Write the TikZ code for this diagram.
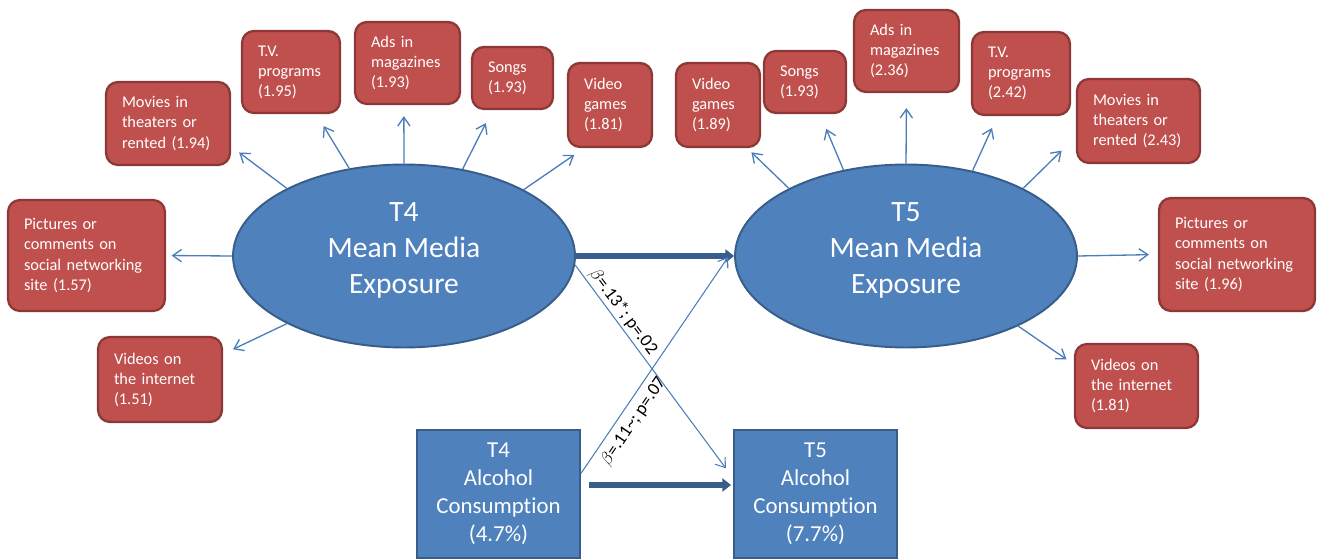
\documentclass[tikz,border=0pt]{standalone}
\usepackage{fontspec}
\setmainfont{Carlito}[Ligatures=NoCommon]
\usetikzlibrary{shapes.geometric,arrows.meta}

\definecolor{redfill}{HTML}{C0504D}
\definecolor{redline}{HTML}{8C3836}
\definecolor{bluefill}{HTML}{4F81BD}
\definecolor{blueline}{HTML}{385D8A}
\definecolor{arrowblue}{HTML}{4A7EBB}

\tikzset{
  media/.style={rectangle, rounded corners=0.24cm, draw=redline, line width=1.3pt,
    fill=redfill, text=white, align=left, inner xsep=0.32cm, inner ysep=0pt,
    font=\fontsize{9.3}{11.4}\selectfont},
  latent/.style={ellipse, draw=blueline, line width=1.1pt, fill=bluefill,
    text=white, minimum width=6.84cm, minimum height=3.66cm,
    inner sep=0pt, font=\fontsize{16.8}{20.5}\selectfont},
  observed/.style={rectangle, draw=blueline, line width=1.1pt, fill=bluefill,
    text=white, align=center, minimum width=3.26cm, minimum height=2.56cm,
    font=\fontsize{13}{15.9}\selectfont},
  load/.style={draw=arrowblue, line width=0.75pt,
    -{Straight Barb[length=5pt,width=7pt]}},
  lagged/.style={draw=arrowblue, line width=0.6pt,
    -{Straight Barb[length=5pt,width=7pt]}},
  stable/.style={draw=blueline, line width=3.4pt,
    -{Triangle[length=5pt,width=7.5pt]}},
  coef/.style={text=black, font=\fontsize{10.3}{12}\selectfont}
}

% three centred lines, lifted a little as in the ellipses
\newcommand\latentlabel[1]{\raisebox{3.4pt}[\height][\depth]{\begin{tabular}{@{}c@{}}#1\end{tabular}}}

\begin{document}
\begin{tikzpicture}[x=0.02cm,y=-0.02cm]

\useasboundingbox (0,0) rectangle (1317,560);

%====================================================
% T4 : mean media exposure
%====================================================
\node[latent] (e4) at (404,256) {\latentlabel{T4\\Mean Media\\Exposure}};

\node[media, text width=1.84cm, minimum height=1.66cm] (movL) at (168,123.5)
  {Movies in\\theaters or\\rented (1.94)};
\node[media, text width=1.32cm, minimum height=1.64cm] (tvL) at (291,72)
  {T.V.\\programs\\(1.95)};
\node[media, text width=1.46cm, minimum height=1.64cm] (adsL) at (407.5,63)
  {Ads in\\magazines\\(1.93)};
\node[media, text width=0.98cm, minimum height=1.24cm] (songL) at (512.5,78)
  {Songs\\(1.93)};
\node[media, text width=1.04cm, minimum height=1.68cm] (gameL) at (610,105)
  {Video\\games\\(1.81)};
\node[media, text width=2.5cm, minimum height=2.22cm] (picL) at (86.5,255.5)
  {Pictures or\\comments on\\social networking\\site (1.57)};
\node[media, text width=1.84cm, minimum height=1.7cm] (vidL) at (160,379.5)
  {Videos on\\the internet\\(1.51)};

% Loadings
\draw[load, shorten >=0.2cm]  (e4.150) -- (movL.-20);
\draw[load, shorten >=0.28cm] (e4.122) -- (tvL.-59);
\draw[load, shorten >=0.22cm] (e4.90)  -- (adsL.-95);
\draw[load, shorten >=0.29cm] (e4.56)  -- (songL.-122);
\draw[load, shorten >=0.24cm] (e4.29)  -- (gameL.-121);
\draw[load, shorten >=0.11cm] (e4.180) -- (picL.east);
\draw[load, shorten >=0.22cm] (e4.210) -- (vidL.22);

%====================================================
% T5 : mean media exposure
%====================================================
\node[latent] (e5) at (906,256) {\latentlabel{T5\\Mean Media\\Exposure}};

\node[media, text width=1.04cm, minimum height=1.68cm] (gameR) at (718,105)
  {Video\\games\\(1.89)};
\node[media, text width=1.0cm, minimum height=1.24cm] (songR) at (805,82)
  {Songs\\(1.93)};
\node[media, text width=1.46cm, minimum height=1.64cm] (adsR) at (906.5,51)
  {Ads in\\magazines\\(2.36)};
\node[media, text width=1.32cm, minimum height=1.66cm] (tvR) at (1021,73.5)
  {T.V.\\programs\\(2.42)};
\node[media, text width=1.82cm, minimum height=1.68cm] (movR) at (1138.5,121)
  {Movies in\\theaters or\\rented (2.43)};
\node[media, text width=2.48cm, minimum height=2.26cm] (picR) at (1237,254.5)
  {Pictures or\\comments on\\social networking\\site (1.96)};
\node[media, text width=1.82cm, minimum height=1.68cm] (vidR) at (1136.5,386)
  {Videos on\\the internet\\(1.81)};

% Loadings
\draw[load, shorten >=0.12cm] (e5.150) -- (gameR.-56);
\draw[load, shorten >=0.32cm] (e5.126) -- (songR.-65);
\draw[load, shorten >=0.3cm]  (e5.90)  -- (adsR.south);
\draw[load, shorten >=0.26cm] (e5.52)  -- (tvR.-119);
\draw[load, shorten >=0.4cm]  (e5.30)  -- (movR.-166);
\draw[load, shorten >=0.18cm] (e5.0)   -- (picR.west);
\draw[load, shorten >=0.18cm] (e5.-32) -- (vidR.161);

%====================================================
% Alcohol consumption
%====================================================
\node[observed] (a4) at (498.5,494) {T4\\Alcohol\\Consumption\\(4.7\%)};
\node[observed] (a5) at (815.5,494) {T5\\Alcohol\\Consumption\\(7.7\%)};

% Stability paths
\draw[stable] (e4) -- (e5);
\draw[stable, shorten <=0.16cm, shorten >=0.04cm]
  ([yshift=0.18cm]a4.east) -- ([yshift=0.18cm]a5.west);

% Cross-lagged paths
\draw[lagged, shorten >=0.24cm] (e4.-3) -- (a5.169)
  node[coef, pos=0.25, sloped, above, inner sep=1.2pt] {$\beta$=.13*; p=.02};
\draw[lagged, shorten >=0.24cm] (a4.14) -- (e5.177)
  node[coef, pos=0.265, sloped, below, inner sep=3.5pt] {$\beta$=.11\textasciitilde; p=.07};

\end{tikzpicture}
\end{document}
